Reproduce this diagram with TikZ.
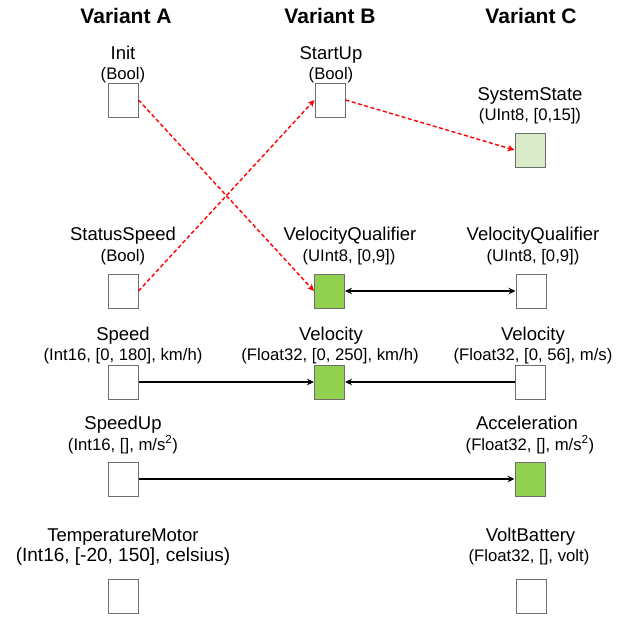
\documentclass[tikz,border=0pt]{standalone}
\usepackage{fontspec}
\setmainfont{Liberation Sans}
\usetikzlibrary{arrows.meta}
\definecolor{boxline}{HTML}{6E6E6E}
\definecolor{signalgreen}{HTML}{92D050}
\definecolor{palegreen}{HTML}{D9EBC8}
\definecolor{linkred}{HTML}{FF0000}

\begin{document}
\begin{tikzpicture}[x=1pt,y=-1pt,
  sig/.style={draw=boxline, line width=1pt, fill=white, minimum width=30pt,
              minimum height=34pt, inner sep=0pt},
  mapped/.style={sig, fill=signalgreen},
  added/.style={sig, fill=palegreen},
  title/.style={anchor=base, inner sep=0pt, font=\fontsize{21}{25}\selectfont\bfseries},
  sname/.style={anchor=base, inner sep=0pt, font=\fontsize{18.5}{22}\selectfont},
  stype/.style={anchor=base, inner sep=0pt, font=\fontsize{16.7}{20}\selectfont},
  link/.style={line width=1.8pt, -{Stealth[length=7pt,width=6.5pt]}},
  bilink/.style={line width=1.8pt, {Stealth[length=7pt,width=6.5pt]}-{Stealth[length=7pt,width=6.5pt]}},
  rename/.style={draw=linkred, dash pattern=on 4pt off 2.5pt, line width=1.4pt,
                 -{Stealth[length=7pt,width=6.5pt,fill=linkred]}}
]
\useasboundingbox (0,0) rectangle (628,616);

% column headings
\node[title] (hA) at (126,23) {Variant A};
\node[title] (hB) at (330,23) {Variant B};
\node[title] (hC) at (531,23) {Variant C};

% ---- Variant A ----
\node[sname] (initN) at (123,59) {Init};
\node[stype] (initT) at (123,79) {(Bool)};
\node[sig] (init) at (123,100) {};

\node[sname] (statN) at (123,240) {StatusSpeed};
\node[stype] (statT) at (123,261) {(Bool)};
\node[sig] (stat) at (123,291) {};

\node[sname] (spdN) at (123,340) {Speed};
\node[stype] (spdT) at (123,360) {(Int16, [0, 180], km/h)};
\node[sig] (spd) at (123,382) {};

\node[sname] (supN) at (123,429) {SpeedUp};
\node[stype] (supT) at (123,450) {(Int16, [], m/s\textsuperscript{2})};
\node[sig] (sup) at (123,479) {};

\node[sname] (tmpN) at (123,541) {TemperatureMotor};
\node[anchor=base, inner sep=0pt, font=\fontsize{19}{23}\selectfont] (tmpT) at (123,561) {(Int16, [-20, 150], celsius)};
\node[sig] (tmp) at (123,596) {};

% ---- Variant B ----
\node[sname] (stuN) at (331,59) {StartUp};
\node[stype] (stuT) at (331,79) {(Bool)};
\node[sig] (stu) at (330,100) {};

\node[sname] (vqbN) at (350,240) {VelocityQualifier};
\node[stype] (vqbT) at (349,261) {(UInt8, [0,9])};
\node[mapped] (vqb) at (329.5,291) {};

\node[sname] (velbN) at (331,340) {Velocity};
\node[stype] (velbT) at (330,360) {(Float32, [0, 250], km/h)};
\node[mapped] (velb) at (329.5,382) {};

% ---- Variant C ----
\node[sname] (sysN) at (530,100) {SystemState};
\node[stype] (sysT) at (530,120) {(UInt8, [0,15])};
\node[added] (sys) at (530,150) {};

\node[sname] (vqcN) at (533,240) {VelocityQualifier};
\node[stype] (vqcT) at (533,261) {(UInt8, [0,9])};
\node[sig] (vqc) at (531,291) {};

\node[sname] (velcN) at (533,340) {Velocity};
\node[stype] (velcT) at (533,360) {(Float32, [0, 56], m/s)};
\node[sig] (velc) at (530.5,382) {};

\node[sname] (accN) at (527,429) {Acceleration};
\node[stype] (accT) at (530,450) {(Float32, [], m/s\textsuperscript{2})};
\node[mapped] (acc) at (530,479) {};

\node[sname] (vbatN) at (530.5,541) {VoltBattery};
\node[stype] (vbatT) at (529,561) {(Float32, [], volt)};
\node[sig] (vbat) at (531,596) {};

% renamed signals
\draw[rename] (init.east) -- (vqb.west);
\draw[rename] (stat.east) -- (stu.west);
\draw[rename] (stu.east) -- (sys.west);

% matched signals
\draw[bilink] (vqb.east) -- (vqc.west);
\draw[link] (spd.east) -- (velb.west);
\draw[link] (velc.west) -- (velb.east);
\draw[link] (sup.east) -- (acc.west);
\end{tikzpicture}
\end{document}
